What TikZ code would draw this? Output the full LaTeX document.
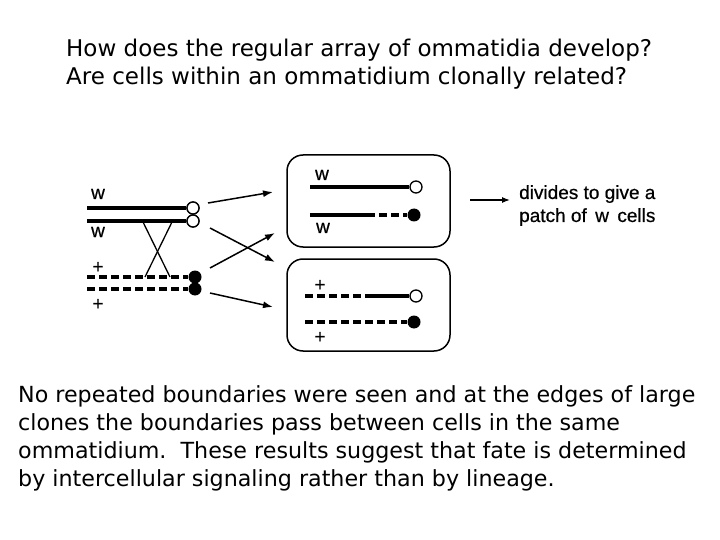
\documentclass[tikz,border=0pt]{standalone}
\usepackage{fontspec}
\setmainfont{DejaVu Sans}
\newfontfamily\labfont[FakeBold=0.6]{Liberation Sans}
\usetikzlibrary{arrows.meta}
\begin{document}
\begin{tikzpicture}[x=1pt,y=-1pt,
  chrom/.style={line width=4pt},
  dchrom/.style={line width=4pt, dash pattern=on 8pt off 4pt},
  ocirc/.style={circle,draw,line width=1.3pt,fill=white,inner sep=0pt,minimum size=12pt},
  fcirc/.style={circle,fill=black,inner sep=0pt,minimum size=13pt},
  arr/.style={line width=1.5pt,-{Latex[length=10pt,width=7pt]}},
  thin/.style={line width=1.3pt},
  box/.style={draw,line width=1.5pt,rounded corners=16pt,minimum width=163pt,minimum height=92pt,inner sep=0pt},
  lab/.style={font=\labfont\fontsize{19}{19}\selectfont, inner sep=0pt, anchor=base},
  txt/.style={font=\fontsize{23}{23}\selectfont, inner sep=0pt, anchor=base west},
  txtb/.style={font=\fontsize{22.2}{22.2}\selectfont, inner sep=0pt, anchor=base west}]
\useasboundingbox (0,0) rectangle (720,540);
% top text
\node[txt] (t1) at (66,57) {How does the regular array of ommatidia develop?};
\node[txt] (t2) at (66,85) {Are cells within an ommatidium clonally related?};
% left chromosomes
\node[ocirc] (c1) at (193,208) {};
\node[ocirc] (c2) at (193,221) {};
\node[fcirc] (c3) at (195,277) {};
\node[fcirc] (c4) at (195,289) {};
\coordinate (l1) at (87,208);
\coordinate (l2) at (87,221);
\coordinate (l3) at (87,277);
\coordinate (l4) at (87,289);
\draw[chrom] (l1) -- (c1.west);
\draw[chrom] (l2) -- (c2.west);
\draw[dchrom] (l3) -- (c3.west);
\draw[dchrom] (l4) -- (c4.west);
\node[ocirc] at (193,208) {};
\node[ocirc] at (193,221) {};
\node[lab] (w1) at (98,199) {w};
\node[lab] (w2) at (98,237) {w};
\node[lab] (p1) at (98,273) {+};
\node[lab] (p2) at (98,310) {+};
% crossing
\coordinate (x1) at (143,222);
\coordinate (x2) at (170,277);
\coordinate (x3) at (172,222);
\coordinate (x4) at (145,277);
\draw[thin] (x1) -- (x2);
\draw[thin] (x3) -- (x4);
% boxes
\node[box] (b1) at (368.5,201) {};
\node[box] (b2) at (368.5,305) {};
% arrows
\coordinate (a1s) at (208,203); \coordinate (a1e) at (273,192);
\coordinate (a2s) at (210,228); \coordinate (a2e) at (275,262);
\coordinate (a3s) at (210,268); \coordinate (a3e) at (275,233);
\coordinate (a4s) at (210,293); \coordinate (a4e) at (273,307);
\draw[arr] (a1s) -- (a1e);
\draw[arr] (a2s) -- (a2e);
\draw[arr] (a3s) -- (a3e);
\draw[arr] (a4s) -- (a4e);
% box 1 contents
\node[ocirc] (d1) at (416,187) {};
\node[fcirc] (d2) at (414,215) {};
\coordinate (m1) at (310,187);
\coordinate (m2) at (310,215);
\coordinate (m2b) at (367,215);
\draw[chrom] (m1) -- (d1.west);
\draw[chrom] (m2) -- (m2b);
\draw[dchrom] (m2b) -- (d2.west);
\node[lab] (bw1) at (322,180) {w};
\node[lab] (bw2) at (323,233) {w};
% box 2 contents
\node[ocirc] (e1) at (416,296) {};
\node[fcirc] (e2) at (414,322) {};
\coordinate (n1) at (305,296);
\coordinate (n1b) at (372,296);
\coordinate (n2) at (305,322);
\draw[dchrom] (n1) -- (n1b);
\draw[chrom] (n1b) -- (e1.west);
\draw[dchrom] (n2) -- (e2.west);
\node[lab] (bp1) at (320,291) {+};
\node[lab] (bp2) at (320,343) {+};
% right
\coordinate (r1) at (470,200);
\coordinate (r1e) at (510,200);
\node[lab, anchor=base west] (r2) at (519,199) {divides to give a};
\node[lab, anchor=base west] (r3) at (519,222) {patch of \,w\, cells};
\draw[line width=1.3pt,-{Latex[length=8pt,width=6pt]}] (r1) -- (r1e);
% bottom text
\node[txtb] (s1) at (18,402) {No repeated boundaries were seen and at the edges of large};
\node[txtb] (s2) at (18,430) {clones the boundaries pass between cells in the same};
\node[txtb] (s3) at (18,458) {ommatidium.\ \ These results suggest that fate is determined};
\node[txtb] (s4) at (18,486) {by intercellular signaling rather than by lineage.};
\end{tikzpicture}
\end{document}
